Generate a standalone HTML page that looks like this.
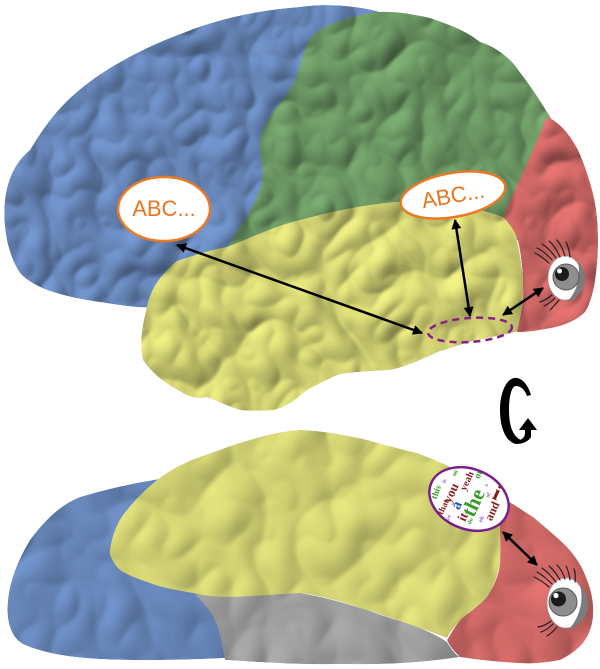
<!DOCTYPE html>
<html>
<head>
<meta charset="utf-8">
<style>
  html,body{margin:0;padding:0;background:#fff;}
  svg{display:block;}
</style>
</head>
<body>
<svg width="600" height="669" viewBox="0 0 600 669" xmlns="http://www.w3.org/2000/svg">
  <defs>
    <filter id="tex" x="-5%" y="-5%" width="110%" height="110%" color-interpolation-filters="sRGB">
      <feTurbulence type="turbulence" baseFrequency="0.02 0.018" numOctaves="2" seed="7" result="noise"/>
      <feGaussianBlur in="noise" stdDeviation="1.6" result="sn"/>
      <feDiffuseLighting in="sn" surfaceScale="5" diffuseConstant="1" lighting-color="#ffffff" result="light">
        <feDistantLight azimuth="225" elevation="55"/>
      </feDiffuseLighting>
      <feComposite in="SourceGraphic" in2="light" operator="arithmetic" k1="1.12" k2="0" k3="0" k4="0" result="lit"/>
      <feComposite in="lit" in2="SourceGraphic" operator="in"/>
    </filter>
    <filter id="tex2" x="-5%" y="-5%" width="110%" height="110%" color-interpolation-filters="sRGB">
      <feTurbulence type="turbulence" baseFrequency="0.015 0.012" numOctaves="2" seed="11" result="noise"/>
      <feGaussianBlur in="noise" stdDeviation="2" result="sn"/>
      <feDiffuseLighting in="sn" surfaceScale="5" diffuseConstant="1" lighting-color="#ffffff" result="light">
        <feDistantLight azimuth="225" elevation="58"/>
      </feDiffuseLighting>
      <feComposite in="SourceGraphic" in2="light" operator="arithmetic" k1="1.1" k2="0" k3="0" k4="0" result="lit"/>
      <feComposite in="lit" in2="SourceGraphic" operator="in"/>
    </filter>
    <marker id="ah" viewBox="0 0 10 10" refX="9" refY="5" markerWidth="4" markerHeight="4" orient="auto-start-reverse">
      <path d="M0,0 L10,5 L0,10 z" fill="#000"/>
    </marker>
    <clipPath id="wc">
      <ellipse cx="469" cy="499" rx="40" ry="29" transform="rotate(22 469 499)"/>
    </clipPath>
  </defs>

  <!-- ================= TOP BRAIN ================= -->
  <g filter="url(#tex)">
    <path fill="#6d8ec4" d="M300,7 C 260,10 220,18 183,33 C 150,45 110,65 83,87 C 60,105 45,125 30,150 C 18,160 8,175 5,200 C 3,220 5,250 20,273 C 35,290 70,298 100,302 C 125,306 140,308 150,307 L 260,300 L 300,200 L 380,12 C 350,4 320,4 300,7 Z"/>
    <path fill="#72a06a" d="M377,12 C 350,16 325,24 313,35 C 303,48 302,60 298,72 C 293,88 283,100 276,108 C 265,122 259,135 260,150 C 262,165 265,180 258,195 C 252,210 240,225 227,248 L 300,260 L 520,240 L 552,120 C 540,100 530,85 513,63 C 500,50 490,45 480,42 C 465,30 450,25 430,18 C 412,14 395,11 377,12 Z"/>
    <path fill="#dede7a" d="M147,307 C 150,290 160,275 177,261 C 195,255 210,250 227,247 C 250,238 275,226 300,220 C 330,212 365,204 397,202 C 430,200 470,205 503,217 C 512,225 516,232 517,240 C 520,255 523,270 523,287 C 523,305 521,320 518,331 C 512,333 508,334 507,334 C 490,337 480,340 473,341 C 455,346 445,350 440,351 C 420,360 405,367 390,370 C 370,371 355,372 340,374 C 325,380 315,386 307,390 C 295,400 285,408 273,410 C 260,411 250,411 240,410 C 225,405 215,400 207,397 C 195,400 185,395 173,387 C 160,380 150,370 143,360 C 140,345 141,330 147,307 Z"/>
    <path fill="#d96d6b" d="M547,117 C 560,122 570,135 578,150 C 587,170 595,195 597,217 C 599,240 598,265 594,287 C 591,300 588,308 585,312 C 575,322 560,327 545,329 C 535,331 525,332 517,332 C 521,315 524,300 523,287 C 523,270 521,252 517,237 C 513,228 508,222 503,217 C 507,208 510,200 515,190 C 520,178 527,165 533,150 C 538,138 543,126 547,117 Z"/>
  </g>

  <!-- top eye -->
  <g>
    <ellipse cx="565" cy="278" rx="17" ry="22" fill="#ffffff" stroke="#9a9a9a" stroke-width="0.6"/>
    <path d="M578,262 C 590,273 587,295 567,302 C 577,292 581,277 578,262 Z" fill="#7c7c7c"/>
    <circle cx="566" cy="277" r="13" fill="#8e8e8e" stroke="#5a5a5a" stroke-width="1"/>
    <circle cx="562" cy="274" r="7" fill="#1c1c1c"/>
    <circle cx="559.5" cy="271" r="2.5" fill="#ffffff"/>
    <g fill="none" stroke="#222" stroke-width="1.2" stroke-linecap="round">
      <path d="M549,263 Q541,256 535,253"/>
      <path d="M552,260 Q544,251 537,248"/>
      <path d="M556,258 Q549,248 542,244"/>
      <path d="M560,257 Q555,246 549,241"/>
      <path d="M565,256 Q562,246 557,240"/>
      <path d="M570,257 Q569,248 566,242"/>
      <path d="M552,295 Q546,300 540,302"/>
      <path d="M555,298 Q549,304 544,306"/>
      <path d="M559,300 Q554,306 550,310"/>
    </g>
  </g>

  <!-- top arrows -->
  <g stroke="#000" stroke-width="2.5" fill="none">
    <line x1="177" y1="245" x2="422" y2="333" marker-start="url(#ah)" marker-end="url(#ah)"/>
    <line x1="455" y1="220" x2="470" y2="316" marker-start="url(#ah)" marker-end="url(#ah)"/>
    <line x1="503" y1="315" x2="543" y2="288" marker-start="url(#ah)" marker-end="url(#ah)"/>
  </g>

  <ellipse cx="470" cy="330" rx="42" ry="12" transform="rotate(-4 470 330)" fill="none" stroke="#8b1e8f" stroke-width="2.5" stroke-dasharray="7 5"/>

  <ellipse cx="164" cy="209" rx="46" ry="32" fill="#ffffff" stroke="#e97a25" stroke-width="2.5"/>
  <text x="164" y="216" text-anchor="middle" font-family="'Liberation Sans', Arial, sans-serif" font-size="22" fill="#e8751c">ABC...</text>

  <g transform="rotate(-10 453 195)">
    <ellipse cx="453" cy="195" rx="53" ry="22" fill="#ffffff" stroke="#e97a25" stroke-width="2.5"/>
    <text x="453" y="203" text-anchor="middle" font-family="'Liberation Sans', Arial, sans-serif" font-size="22" fill="#e8751c">ABC...</text>
  </g>

  <!-- rotation symbol -->
  <g fill="#000">
    <path d="M531,395 C 527,382 520,377 514,378 C 505,380 500,395 500,410 C 500,428 506,442 516,444 L 521,440 C 514,437 509,428 509,410 C 509,395 512,386 516,386 C 521,386 525,390 527,396 Z"/>
    <polygon points="519,430 537,430 528,418"/>
    <path d="M525,430 L531,430 L531,437 C 528,442 522,444 516,444 L520,440 C 523,439 525,436 525,433 Z"/>
  </g>

  <!-- ================= BOTTOM BRAIN ================= -->
  <g filter="url(#tex2)">
    <path fill="#6d8ec4" d="M160,479 C 140,482 110,488 80,497 C 60,505 45,520 30,540 C 18,560 10,580 8,600 C 6,620 10,638 25,645 C 45,653 65,657 100,659 C 140,661 180,660 225,658 L 225,600 L 160,479 Z"/>
    <path fill="#a6a6a6" d="M195,595 C 230,592 270,590 300,593 C 330,598 350,605 367,610 C 385,617 405,622 417,627 C 430,632 440,637 447,642 C 452,650 456,655 460,657 C 420,663 380,665 340,664 C 300,665 260,662 225,660 C 222,645 220,630 215,620 C 210,610 203,602 195,595 Z"/>
    <path fill="#dede7a" d="M157,480 C 170,470 185,462 200,457 C 220,450 235,444 250,440 C 270,434 285,431 300,430 C 325,431 345,435 367,440 C 385,445 400,449 417,453 C 430,458 440,462 450,467 C 460,472 468,477 473,481 C 485,487 493,492 500,497 C 502,510 501,520 500,530 C 500,545 501,555 500,565 C 496,580 492,590 487,597 C 478,607 468,614 460,620 C 455,626 450,632 447,638 C 435,633 425,630 417,627 C 400,621 385,616 367,610 C 345,603 325,596 300,593 C 280,594 255,596 233,597 C 215,597 200,595 193,593 C 175,590 160,587 150,583 C 135,578 122,573 117,567 C 112,560 109,555 110,550 C 112,535 118,520 127,510 C 135,500 145,490 157,480 Z"/>
    <path fill="#d96d6b" d="M500,497 C 512,503 522,510 533,517 C 545,527 557,537 567,547 C 577,558 583,568 587,580 C 592,592 594,605 593,617 C 592,628 588,636 583,643 C 576,651 568,656 560,660 C 545,663 530,664 517,663 C 500,662 478,660 460,657 C 455,652 450,647 447,640 C 452,632 456,625 460,620 C 470,612 480,605 487,597 C 493,588 498,577 500,565 C 501,553 500,540 500,527 C 500,517 500,507 500,497 Z"/>
  </g>

  <!-- bottom eye -->
  <g>
    <ellipse cx="566" cy="603" rx="19" ry="25" fill="#ffffff" stroke="#9a9a9a" stroke-width="0.6"/>
    <path d="M580,585 C 594,598 590,623 568,630 C 580,618 584,600 580,585 Z" fill="#7c7c7c"/>
    <circle cx="563" cy="602" r="14" fill="#8e8e8e" stroke="#5a5a5a" stroke-width="1"/>
    <circle cx="558.5" cy="599" r="7.5" fill="#1c1c1c"/>
    <circle cx="556" cy="595.5" r="2.6" fill="#ffffff"/>
    <g fill="none" stroke="#222" stroke-width="1.2" stroke-linecap="round">
      <path d="M549,587 Q541,580 534,577"/>
      <path d="M552,584 Q544,576 537,572"/>
      <path d="M556,582 Q549,573 542,568"/>
      <path d="M560,580 Q555,571 549,566"/>
      <path d="M565,579 Q562,570 557,565"/>
      <path d="M570,580 Q569,572 566,566"/>
      <path d="M575,582 Q576,575 574,569"/>
      <path d="M551,621 Q545,626 538,627"/>
      <path d="M553,624 Q547,630 541,632"/>
      <path d="M557,627 Q552,633 547,636"/>
    </g>
  </g>

  <line x1="503" y1="532" x2="537" y2="565" stroke="#000" stroke-width="2.5" marker-start="url(#ah)" marker-end="url(#ah)"/>

  <!-- word cloud -->
  <ellipse cx="469" cy="499" rx="41" ry="30" transform="rotate(22 469 499)" fill="#ffffff" stroke="#7a1f8c" stroke-width="2.5"/>
  <g clip-path="url(#wc)" font-family="'Liberation Serif', 'DejaVu Serif', serif" font-weight="bold">
    <text x="474" y="509" font-size="21" fill="#3a9a2a" text-anchor="middle" transform="rotate(-65 474 503)">the</text>
    <text x="497" y="500" font-size="22" fill="#8b1c1c" text-anchor="middle" transform="rotate(25 497 493)">i</text>
    <text x="492" y="515" font-size="12" fill="#8b1c1c" text-anchor="middle" transform="rotate(-65 492 511)">and</text>
    <text x="451" y="497" font-size="13" fill="#8b1c1c" text-anchor="middle" transform="rotate(-65 451 493)">you</text>
    <text x="456" y="510" font-size="15" fill="#2456b8" text-anchor="middle" transform="rotate(-65 456 505)">a</text>
    <text x="463" y="521" font-size="13" fill="#8b1c1c" text-anchor="middle" transform="rotate(-65 463 517)">it</text>
    <text x="467" y="484" font-size="10" fill="#8b1c1c" text-anchor="middle" transform="rotate(-65 467 481)">yeah</text>
    <text x="480" y="477" font-size="10" fill="#3a9a2a" text-anchor="middle" transform="rotate(115 480 474)">no</text>
    <text x="436" y="495" font-size="9" fill="#3a9a2a" text-anchor="middle" transform="rotate(-70 436 492)">this</text>
    <text x="443" y="510" font-size="9" fill="#8b1c1c" text-anchor="middle" transform="rotate(-65 443 507)">that</text>
    <text x="444" y="483" font-size="6" fill="#a060c0" text-anchor="middle" transform="rotate(-65 444 481)">is</text>
    <text x="455" y="475" font-size="7" fill="#3a9a2a" text-anchor="middle" transform="rotate(-65 455 473)">so</text>
    <text x="486" y="487" font-size="6" fill="#a060c0" text-anchor="middle" transform="rotate(-65 486 485)">s</text>
    <text x="481" y="521" font-size="6" fill="#a060c0" text-anchor="middle" transform="rotate(-65 481 519)">oh</text>
    <text x="470" y="523" font-size="6" fill="#3a9a2a" text-anchor="middle" transform="rotate(-65 470 521)">do</text>
    <text x="448" y="520" font-size="6" fill="#a060c0" text-anchor="middle" transform="rotate(-65 448 518)">we</text>
    <text x="488" y="497" font-size="6" fill="#a060c0" text-anchor="middle" transform="rotate(-65 488 495)">of</text>
  </g>
</svg>
</body>
</html>
